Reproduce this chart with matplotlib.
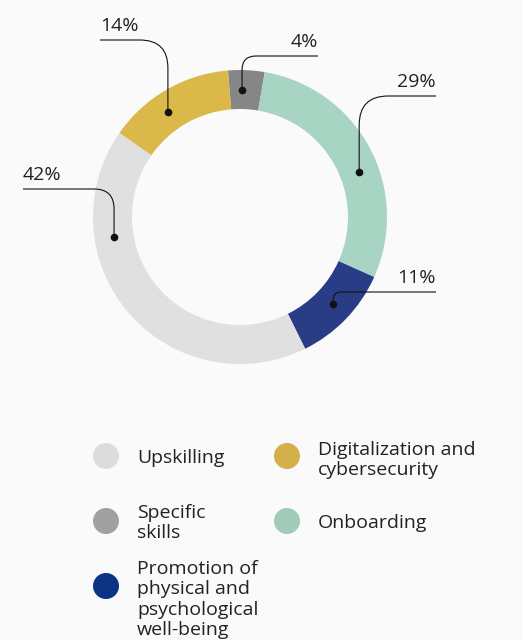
import numpy as np
import matplotlib
matplotlib.use("Agg")
import matplotlib.pyplot as plt
from matplotlib.path import Path
from matplotlib.patches import PathPatch, Circle

plt.rcParams['font.family'] = ['Open Sans', 'DejaVu Sans']

# data, listed in legend order
categories = ["Upskilling", "Digitalization and\ncybersecurity", "Specific\nskills",
              "Onboarding", "Promotion of\nphysical and\npsychological\nwell-being"]
shares = [42, 14, 4, 29, 11]
pie_colors = ["#e0e0e0", "#dbb84a", "#868686", "#a8d4c3", "#283d85"]
legend_colors = ["#dcdcdc", "#d4b04a", "#a0a0a0", "#a0cbb9", "#0d3385"]
# clockwise order of the ring starting just left of 12 o'clock
pie_order = [2, 3, 4, 0, 1]

# leader-line layout per category: (line end x, line y, corner radius, side, dot position in wedge)
leaders = [
    (23, 451, 20, "left", 0.29),
    (100, 600, 28, "left", 0.59),
    (318, 584, 14, "right", 0.61),
    (436, 544, 29, "right", 0.43),
    (436, 348, 8, "right", 0.52),
]
# legend layout: (circle x, circle y, baseline y of last text line)
legend_pos = [(106, 184, 177), (287, 184, 165), (106, 119, 102), (287, 119, 112), (106, 54, 5)]

W, H = 523, 640
cx, cy, R, ring = 240, 423, 147, 39
text_color = "#222222"
bg = "#fafafa"

fig = plt.figure(figsize=(W / 100, H / 100), dpi=100, facecolor=bg)
ax = fig.add_axes([0, 0, 1, 1])
ax.set_facecolor(bg)

wedges, _ = ax.pie([shares[i] for i in pie_order], colors=[pie_colors[i] for i in pie_order],
                   startangle=94.7, counterclock=False, radius=R, center=(cx, cy),
                   wedgeprops=dict(width=ring, linewidth=0))

for w, i in zip(wedges, pie_order):
    x_end, y_line, r, side, f = leaders[i]
    ang = np.deg2rad(w.theta1 + f * (w.theta2 - w.theta1))
    rm = R - ring / 2
    xd, yd = cx + rm * np.cos(ang), cy + rm * np.sin(ang)
    xc = xd - r if x_end < xd else xd + r
    verts = [(x_end, y_line), (xc, y_line), (xd, y_line), (xd, y_line - r), (xd, yd)]
    codes = [Path.MOVETO, Path.LINETO, Path.CURVE3, Path.CURVE3, Path.LINETO]
    ax.add_patch(PathPatch(Path(verts, codes), fill=False, lw=0.8, ec="#111111", zorder=3))
    ax.plot(xd, yd, "o", ms=4.5, color="#111111", zorder=4)
    ax.text(x_end, y_line + 9, f"{shares[i]}%", ha=side, va="baseline",
            fontsize=14, color=text_color)

for i, (lx, ly, tb) in enumerate(legend_pos):
    ax.add_patch(Circle((lx, ly), 13, color=legend_colors[i], lw=0))
    ax.text(lx + 31, tb, categories[i], ha="left", va="baseline", fontsize=14,
            color=text_color, linespacing=1.17)

ax.set_xlim(0, W)
ax.set_ylim(0, H)
ax.set_aspect("equal")
ax.axis("off")

fig.savefig("out.png", dpi=100, facecolor=bg)
